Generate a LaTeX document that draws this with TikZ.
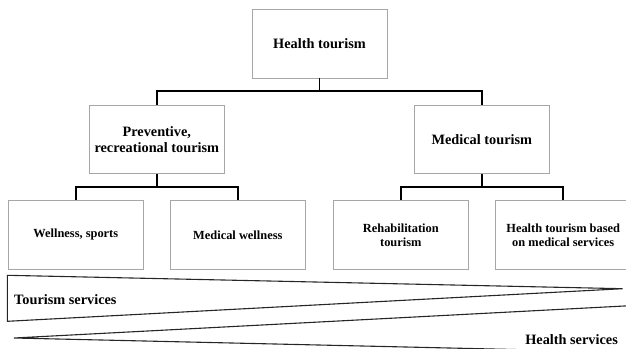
\documentclass[tikz,border=0pt]{standalone}
\usepackage{fontspec}
\setmainfont{Liberation Serif}
\begin{document}
\begin{tikzpicture}[x=1pt,y=-1pt,
  box/.style={draw=black!35, line width=0.9pt, fill=white, inner sep=0pt,
    minimum width=135pt, align=center, font=\bfseries},
  bigtext/.style={font=\fontsize{14.3}{16}\selectfont\bfseries},
  smalltext/.style={font=\fontsize{12.4}{14.4}\selectfont\bfseries},
  link/.style={draw=black, line width=1.8pt},
  wedge/.style={draw=black!85, line width=1.1pt, line join=miter}]
\path[use as bounding box] (0,0) rectangle (626,348);
\clip (0,0) rectangle (626,348);

% hierarchy boxes
\node[box, bigtext, minimum height=69pt] (top) at (319.5,43.5) {Health tourism};
\node[box, bigtext, minimum height=67.6pt] (prev) at (156.8,139.5) {Preventive,\\recreational tourism};
\node[box, bigtext, minimum height=67.6pt] (med) at (481.8,139.5) {Medical tourism};
\node[box, smalltext, minimum height=68.6pt] (well) at (75.8,235) {Wellness, sports};
\node[box, smalltext, minimum height=68.6pt] (mwell) at (237.8,235) {Medical wellness};
\node[box, smalltext, minimum height=68.6pt] (rehab) at (400.8,235) {Rehabilitation\\tourism};
\node[box, smalltext, minimum height=68.6pt] (based) at (563.2,235) {Health tourism based\\on medical services};

% bus points of the tree connectors
\coordinate (bus0) at (319.5,90.7);
\coordinate (bus1) at (156.8,187.3);
\coordinate (bus2) at (481.8,186.9);

\draw[link] (top.south) -- (bus0);
\draw[link, line join=miter] (bus0) -| (prev.north);
\draw[link, line join=miter] (bus0) -| (med.north);
\draw[link] (prev.south) -- (bus1);
\draw[link, line join=miter] (bus1) -| (well.north);
\draw[link, line join=miter] (bus1) -| (mwell.north);
\draw[link] (med.south) -- (bus2);
\draw[link, line join=miter] (bus2) -| (rehab.north);
\draw[link, line join=miter] (bus2) -| (based.north);

% tourism services wedge (narrowing to the right)
\coordinate (tsA) at (7.3,275.3);
\coordinate (tsB) at (622.7,288.7);
\coordinate (tsC) at (7.3,321.3);
\draw[wedge] (tsA) -- (tsB) -- (tsC) -- cycle;
\node[bigtext, anchor=west, inner sep=0pt] (tslabel) at (14,300) {Tourism services};

% health services wedge (widening to the right)
\coordinate (hsA) at (14,338);
\coordinate (hsB) at (632,305.6);
\coordinate (hsC) at (632,352.2);
\draw[wedge] (hsA) -- (hsB) -- (hsC) -- cycle;
\node[bigtext, anchor=east, inner sep=0pt] (hslabel) at (618,339.5) {Health services};
\end{tikzpicture}
\end{document}
